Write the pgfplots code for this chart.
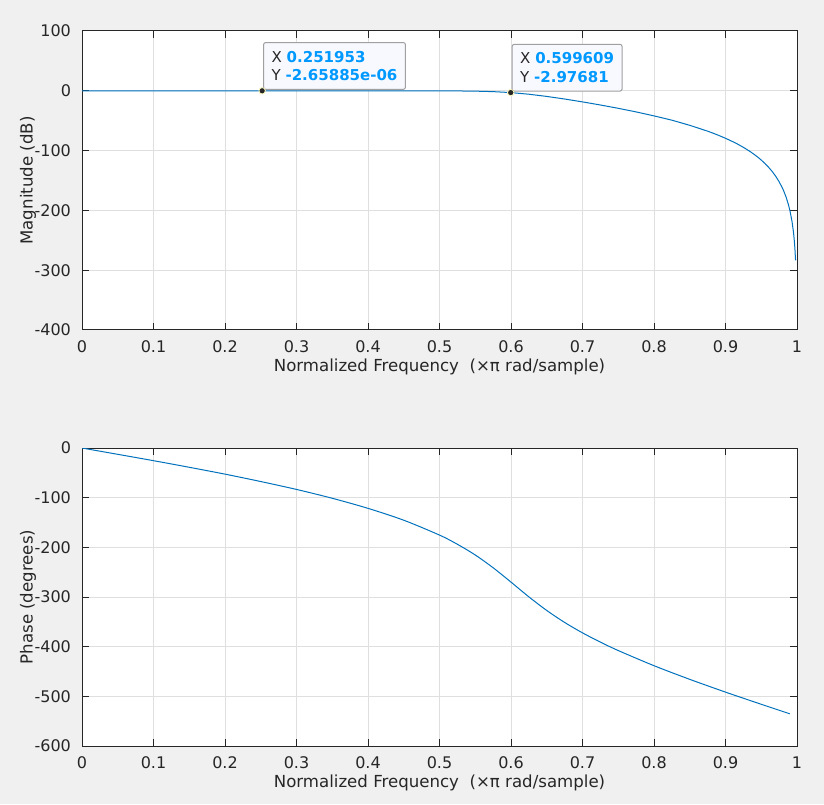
\documentclass[border=0pt]{standalone}
\usepackage{pgfplots}
\pgfplotsset{compat=1.18}
\usepackage{fontspec}
\setmainfont{DejaVu Sans}
\definecolor{figbg}{HTML}{F0F0F0}
\definecolor{axcol}{HTML}{262626}
\definecolor{gridcol}{HTML}{DFDFDF}
\definecolor{mblue}{rgb}{0,0.447,0.741}
\definecolor{tipblue}{rgb}{0,0.6,1}
\definecolor{tipbg}{HTML}{F8F8FF}
\definecolor{tipedge}{HTML}{A0A0A0}
\tikzset{
  tip/.style={draw=tipedge, fill=tipbg, rounded corners=1pt, anchor=south west,
    align=left, inner xsep=4pt, inner ysep=4.2pt, text=axcol,
    font=\fontsize{7.5pt}{9.3pt}\selectfont, line width=0.5pt},
}
\pgfplotsset{
  mlab/.style={
    scale only axis,
    width=357.5pt,
    xmin=0, xmax=1,
    xtick={0,0.1,0.2,0.3,0.4,0.5,0.6,0.7,0.8,0.9,1},
    axis background/.style={fill=white},
    axis line style={axcol, line width=0.5pt},
    tick style={axcol, line width=0.5pt},
    major tick length=3.5pt,
    tick align=inside,
    grid=major,
    major grid style={gridcol, line width=0.5pt},
    /pgf/number format/assume math mode=true,
    tick label style={font=\fontsize{8pt}{9.6pt}\selectfont, text=axcol},
    label style={font=\fontsize{8.3pt}{10pt}\selectfont, text=axcol},
    xticklabel style={yshift=-2pt},
    yticklabel style={xshift=-2pt},
    xlabel={Normalized Frequency\ \ (×π rad/sample)},
    xlabel style={at={(axis description cs:0.5,-0.124)}, anchor=center},
    ylabel style={at={(axis description cs:-0.0755,0.5)}, anchor=center},
    every axis plot/.append style={line width=0.5pt},
  },
}
\begin{document}
\begin{tikzpicture}
\fill[figbg] (0,0) rectangle (412pt,402pt);
% magnitude response
\begin{axis}[mlab, at={(41pt,237pt)}, anchor=south west, height=149.5pt,
    ymin=-400, ymax=100, ytick={-400,-300,-200,-100,0,100},
    ylabel={Magnitude (dB)}]
\addplot[mblue] coordinates {
  (0,0) (0.1,0) (0.2,0) (0.3,0) (0.4,-0.002) (0.45,-0.015) (0.5,-0.093)
  (0.525,-0.24) (0.55,-0.582) (0.575,-1.383) (0.6,-3.01) (0.625,-5.72)
  (0.65,-9.41) (0.675,-13.75) (0.7,-18.55) (0.725,-23.73) (0.75,-29.29)
  (0.775,-35.32) (0.8,-41.94) (0.825,-49.15) (0.85,-57.71) (0.875,-67.51)
  (0.88,-69.69) (0.89,-74.33) (0.9,-79.39) (0.91,-84.96) (0.915,-87.86)
  (0.925,-94.57) (0.93,-98.20) (0.935,-102.07) (0.94,-106.28) (0.945,-110.77)
  (0.95,-115.83) (0.955,-121.35) (0.96,-127.5) (0.965,-134.47) (0.97,-142.52)
  (0.975,-152.04) (0.98,-163.68) (0.982,-169.2) (0.985,-178.7) (0.988,-190.3)
  (0.99,-199.8) (0.993,-218.4) (0.995,-235.9) (0.996,-247.6) (0.997,-262.6)
  (0.998,-283.7)
};
\addplot[only marks, mark=*, mark size=1.6pt, mark options={fill=axcol, draw=yellow!25, line width=0.4pt}]
  coordinates {(0.251953,-2.65885e-06) (0.599609,-2.97681)};
\node[tip] at (axis cs:0.251953,0) [xshift=0.5pt, yshift=0.5pt]
  {X \textcolor{tipblue}{\textbf{0.251953}}\\Y \textcolor{tipblue}{\textbf{-2.65885e-06}}};
\node[tip] at (axis cs:0.599609,-2.97681) [xshift=0.5pt, yshift=0.5pt]
  {X \textcolor{tipblue}{\textbf{0.599609}}\\Y \textcolor{tipblue}{\textbf{-2.97681}}};
\end{axis}
% phase response
\begin{axis}[mlab, at={(41pt,29pt)}, anchor=south west, height=149pt,
    ymin=-600, ymax=0, ytick={-600,-500,-400,-300,-200,-100,0},
    ylabel={Phase (degrees)}]
\addplot[mblue, smooth] coordinates {
  (0,0) (0.05,-12.7) (0.1,-25.5) (0.15,-38.8) (0.2,-52.6) (0.25,-67.5)
  (0.3,-83.4) (0.35,-101.2) (0.4,-121.5) (0.45,-145.4) (0.5,-175.3)
  (0.525,-193.8) (0.55,-215.4) (0.575,-241.1) (0.6,-270) (0.625,-299.7)
  (0.65,-327.1) (0.675,-351.2) (0.7,-372.2) (0.725,-390.8) (0.75,-407.8)
  (0.8,-438.3) (0.85,-465.8) (0.9,-491.5) (0.925,-503.8) (0.95,-516.0)
  (0.97,-525.6) (0.99,-535.2)
};
\end{axis}
\end{tikzpicture}
\end{document}
